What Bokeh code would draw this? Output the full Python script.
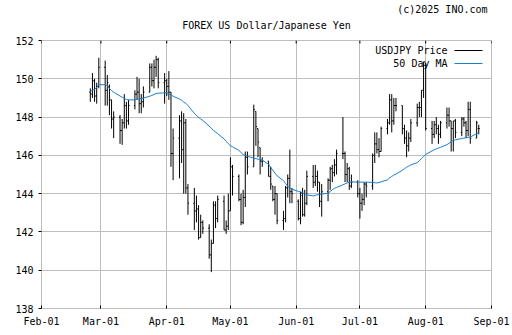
import pandas as pd
from bokeh.plotting import figure
from bokeh.layouts import column
from bokeh.models import (ColumnDataSource, FixedTicker, Label,
                          Range1d, DatetimeTickFormatter)
from bokeh.embed import file_html
from bokeh.resources import INLINE

# ---------------- data ----------------
dates = pd.bdate_range("2025-02-24", "2025-08-26")

opens = [149.3, 149.2, 149.9, 149.1, 149.6,
         150.6, 149.4, 149.6, 148.9, 147.9, 148.0, 147.3, 147.7, 148.6, 147.8,
         148.6, 149.2, 149.3, 148.7, 148.8, 149.3, 150.6, 149.9, 150.6, 151.0, 149.8,
         149.9, 149.6, 149.3, 146.1, 146.9, 147.8, 146.3, 147.7, 144.3,
         143.5, 143.1, 143.2, 141.7, 142.5, 142.2, 140.8, 141.4, 143.4, 142.7, 143.6, 142.1, 142.3,
         143.1, 145.4, 144.9, 143.7, 142.5, 143.8, 145.9, 145.4, 148.3, 147.4, 146.4, 145.7,
         145.7, 144.9, 144.4, 143.7, 144.0, 142.6, 142.7, 144.3, 144.8, 144.1,
         143.6, 142.7, 143.9, 142.9, 143.5, 144.9, 144.6, 144.9, 144.6, 143.6,
         144.1, 144.7, 145.3, 145.1, 145.5, 146.1, 146.1, 145.0, 145.3, 144.4, 144.6,
         144.0, 143.5, 143.7, 144.5, 144.4, 146.0, 146.6, 146.3, 146.2,
         147.4, 147.7, 148.9, 147.8, 148.6, 148.6, 147.4, 146.9, 146.5, 146.9,
         147.7, 148.5, 148.5, 149.4,
         150.7, 147.4, 147.1, 147.6, 147.4, 147.1, 147.7, 148.1, 147.8, 147.4, 147.8,
         147.2, 147.9, 147.7, 147.3, 148.4, 146.9, 147.4]
highs = [149.5, 150.3, 150.0, 149.8, 151.1,
         150.95, 150.2, 149.7, 148.9, 148.3, 148.1, 147.9, 149.2, 148.8, 148.9,
         149.4, 150.1, 150.0, 149.2, 149.6, 150.8, 150.8, 151.0, 151.2, 151.1, 150.3,
         150.0, 150.4, 149.3, 147.4, 148.1, 148.3, 148.2, 147.9, 144.5,
         144.3, 143.9, 143.4, 142.9, 142.6, 142.4, 141.6, 143.6, 143.6, 143.9, 143.9, 142.6, 144.0,
         145.9, 145.5, 145.0, 144.0, 144.2, 146.2, 146.2, 148.65, 148.3, 147.4, 146.4, 145.9,
         145.7, 145.4, 144.4, 144.4, 144.0, 143.1, 144.4, 145.0, 146.3, 144.3,
         143.7, 144.1, 144.3, 144.2, 145.2, 145.5, 145.5, 145.2, 144.6, 144.5,
         144.8, 145.4, 145.5, 145.8, 146.3, 148.0, 146.2, 145.6, 145.4, 145.0, 144.7,
         144.3, 144.0, 144.6, 144.6, 146.1, 147.2, 147.2, 146.9, 147.5,
         147.9, 149.2, 149.2, 149.0, 149.0, 148.6, 147.6, 147.3, 147.2, 147.9,
         148.7, 148.8, 149.4, 150.9,
         150.8, 147.8, 147.8, 148.0, 147.6, 147.8, 148.5, 148.5, 147.8, 147.8, 147.9,
         148.0, 148.0, 147.8, 148.8, 148.8, 147.8, 147.6]
lows = [148.8, 149.0, 148.8, 148.7, 149.5,
        148.6, 148.6, 148.1, 147.4, 146.9, 146.6, 146.55, 147.4, 147.4, 147.6,
        148.4, 148.9, 148.2, 148.2, 148.5, 149.3, 149.6, 149.5, 150.1, 149.5, 148.7,
        149.1, 148.9, 145.4, 144.7, 144.8, 145.6, 144.0, 144.0, 142.9,
        142.1, 142.5, 141.6, 141.7, 141.9, 140.6, 139.9, 141.4, 142.2, 142.5, 142.1, 141.9, 142.1,
        143.1, 143.9, 143.6, 142.35, 142.4, 143.3, 145.0, 145.4, 146.5, 145.9, 145.0, 145.4,
        144.9, 144.2, 143.6, 142.9, 142.4, 142.1, 142.5, 143.8, 143.5, 143.5,
        142.6, 142.4, 142.8, 142.8, 143.4, 144.3, 144.4, 144.1, 143.3, 142.8,
        143.6, 144.2, 144.6, 144.9, 145.0, 145.8, 144.6, 144.6, 144.2, 144.3, 143.8,
        142.7, 143.1, 143.4, 143.8, 144.2, 145.6, 146.1, 145.9, 146.2,
        147.1, 147.6, 147.2, 147.6, 148.3, 147.1, 146.6, 145.9, 146.2, 146.7,
        147.5, 148.0, 148.0, 149.0,
        147.3, 146.6, 146.9, 147.1, 146.6, 146.9, 147.4, 147.5, 146.2, 146.2, 146.9,
        147.0, 147.5, 146.9, 147.0, 146.6, 146.9, 147.1]
closes = [149.2, 149.9, 149.1, 149.6, 150.6,
          149.4, 149.8, 148.9, 147.9, 148.0, 147.3, 147.7, 148.6, 147.8, 148.6,
          149.2, 149.3, 148.7, 148.8, 149.3, 150.6, 149.9, 150.6, 151.0, 149.8, 149.9,
          149.6, 149.3, 146.1, 146.9, 147.8, 146.3, 147.7, 144.3, 143.5,
          143.1, 143.2, 141.7, 142.5, 142.2, 140.8, 141.4, 143.4, 142.7, 143.7, 142.1, 142.3, 143.1,
          145.4, 144.9, 143.7, 142.5, 143.8, 145.9, 145.4, 148.4, 147.5, 146.7, 145.7, 145.7,
          144.9, 144.5, 143.7, 144.0, 142.6, 142.7, 144.3, 144.8, 144.1, 144.0,
          142.7, 144.0, 142.9, 143.5, 144.9, 144.6, 144.9, 144.6, 143.6, 144.1,
          144.7, 145.3, 145.1, 145.5, 146.1, 146.1, 145.0, 145.3, 144.4, 144.6, 144.0,
          143.5, 143.7, 144.5, 144.4, 146.0, 146.6, 146.3, 146.2, 147.4,
          147.7, 148.9, 147.8, 148.6, 148.6, 147.4, 146.9, 146.5, 146.9, 147.7,
          148.5, 148.5, 149.4, 150.7,
          147.4, 147.1, 147.6, 147.4, 147.1, 147.7, 148.1, 147.8, 147.4, 147.8, 147.2,
          147.9, 147.7, 147.3, 148.4, 146.9, 147.7, 147.4]
ma50 = [149.35, 149.39, 149.45, 149.55, 149.68,
        149.7, 149.64, 149.5, 149.38, 149.3, 149.1, 149.04, 148.98, 148.92, 148.9,
        148.9, 148.93, 148.95, 148.97, 148.99, 149.09, 149.13, 149.18, 149.23, 149.25, 149.26,
        149.29, 149.2, 149.16, 149.09, 148.94, 148.88, 148.78, 148.72, 148.6,
        148.2, 148.08, 147.99, 147.9, 147.82, 147.53, 147.42, 147.3, 147.22, 147.13, 146.86, 146.73, 146.61,
        146.5, 146.45, 146.26, 146.15, 146.04, 146.0, 145.95, 145.86, 145.83, 145.8, 145.78, 145.75,
        145.53, 145.37, 145.22, 145.07, 144.93, 144.68, 144.53, 144.38, 144.29, 144.23,
        144.12, 144.09, 144.04, 144.0, 143.94, 143.88, 143.91, 143.94, 143.96, 143.98,
        144.02, 144.11, 144.2, 144.28, 144.32, 144.46, 144.51, 144.56, 144.59, 144.61, 144.61,
        144.6, 144.6, 144.6, 144.6, 144.59, 144.57, 144.56, 144.58, 144.62,
        144.72, 144.82, 144.9, 144.97, 145.02, 145.22, 145.3, 145.38, 145.44, 145.5,
        145.62, 145.72, 145.83, 145.94,
        146.05, 146.23, 146.29, 146.34, 146.38, 146.42, 146.56, 146.63, 146.71, 146.78, 146.81,
        146.88, 146.9, 146.92, 146.94, 146.96, 147.13, 147.18]

month_ticks = ["2025-02-01", "2025-03-01", "2025-04-01", "2025-05-01",
               "2025-06-01", "2025-07-01", "2025-08-01", "2025-09-01"]
y_ticks = [138, 140, 142, 144, 146, 148, 150, 152]

title_text = "FOREX US Dollar/Japanese Yen"
copyright_text = "(c)2025 INO.com"
legend_labels = ["USDJPY Price", "50 Day MA"]

# ---------------- styles / layout ----------------
FONT = "DejaVu Sans Mono"
FS = "10px"
GRID = "#bdbdbd"
BLUE = "#1a7fd0"
W, H = 512, 335
HEAD = 36                                   # header strip height
FL, FR, FT, FB = 41, 491, 40, 308           # frame edges in page pixels
half = pd.Timedelta(hours=12)

tick_ms = [pd.Timestamp(t).value / 1e6 for t in month_ticks]
t0, t1 = tick_ms[0], tick_ms[-1]
v0, v1 = y_ticks[0], y_ticks[-1]

def px_x(px):      # page pixel column -> data x (ms)
    return t0 + (px - FL) / (FR - FL) * (t1 - t0)

def px_y(py):      # page pixel row -> data y
    return v1 - (py - FT) / (FB - FT) * (v1 - v0)

# ---------------- header strip (title + copyright) ----------------
# the column layout aligns this strip's frame with the chart frame (FL..FR)
head = figure(width=W, height=HEAD, x_range=Range1d(FL, FR), y_range=Range1d(HEAD, 0),
              output_backend="svg", toolbar_location=None, min_border=0,
              x_axis_location=None, y_axis_location=None, title=None)
head.outline_line_color = None
head.grid.visible = False
head.background_fill_color = "white"
head.border_fill_color = "white"
head.add_layout(Label(x=(FL + FR) / 2, y=24.5, text=title_text, text_align="center",
                      text_baseline="alphabetic", text_font=FONT, text_font_size=FS,
                      text_color="black"))
head.add_layout(Label(x=487, y=9.0, text=copyright_text, text_align="right",
                      text_baseline="alphabetic", text_font=FONT, text_font_size=FS,
                      text_color="black"))

# ---------------- main chart ----------------
df = pd.DataFrame({"date": dates, "open": opens, "high": highs,
                   "low": lows, "close": closes, "ma": ma50})
df["left"] = df["date"] - half
df["right"] = df["date"] + half
src = ColumnDataSource(df)

p = figure(width=W, height=H - HEAD, x_axis_type="datetime", title=None,
           x_range=Range1d(t0, t1), y_range=Range1d(v0, v1),
           output_backend="svg", toolbar_location=None,
           min_border_left=FL, min_border_right=W - FR,
           min_border_top=FT - HEAD, min_border_bottom=H - FB)

p.outline_line_color = GRID
p.background_fill_color = "white"
p.border_fill_color = "white"

p.xgrid.ticker = FixedTicker(ticks=tick_ms)
p.ygrid.ticker = FixedTicker(ticks=y_ticks)
p.grid.grid_line_color = GRID
p.grid.grid_line_width = 1

fmt = DatetimeTickFormatter(days="%b-%d", months="%b-%d", years="%b-%d",
                            hours="%b-%d", minutes="%b-%d", context=None)
xa = p.xaxis[0]
xa.ticker = FixedTicker(ticks=tick_ms)
xa.formatter = fmt
xa.major_tick_in = 3
xa.major_tick_out = 0
xa.minor_tick_line_color = None
xa.axis_line_color = None
xa.major_tick_line_color = "black"
xa.major_label_standoff = 7
xa.major_label_text_font = FONT
xa.major_label_text_font_size = FS
xa.major_label_text_color = "black"

ya = p.yaxis[0]
ya.ticker = FixedTicker(ticks=y_ticks)
ya.major_tick_in = 0
ya.major_tick_out = 3
ya.minor_tick_line_color = None
ya.axis_line_color = None
ya.major_tick_line_color = "black"
ya.major_label_standoff = 5
ya.major_label_text_font = FONT
ya.major_label_text_font_size = FS
ya.major_label_text_color = "black"

# top tick marks (3 px inward)
p.segment(x0=tick_ms, y0=[v1] * len(tick_ms), x1=tick_ms, y1=[px_y(FT + 3)] * len(tick_ms),
          line_color="black", line_width=1)

# OHLC bars
p.segment(x0="date", y0="low", x1="date", y1="high", source=src,
          line_color="black", line_width=1)
p.segment(x0="left", y0="open", x1="date", y1="open", source=src,
          line_color="black", line_width=1)
p.segment(x0="date", y0="close", x1="right", y1="close", source=src,
          line_color="black", line_width=1)
p.line(x="date", y="ma", source=src, line_color=BLUE, line_width=1)

# legend: text, then line sample to its right
for txt, row, col in zip(legend_labels, [50, 63], ["black", BLUE]):
    p.add_layout(Label(x=px_x(447), y=px_y(row), text=txt,
                       text_align="right", text_baseline="middle",
                       text_font=FONT, text_font_size=FS, text_color="black"))
    p.segment(x0=[px_x(454)], y0=[px_y(row)], x1=[px_x(482)], y1=[px_y(row)],
              line_color=col, line_width=1)

page = column(head, p, spacing=0)
open("out.html", "w").write(file_html(page, INLINE))
